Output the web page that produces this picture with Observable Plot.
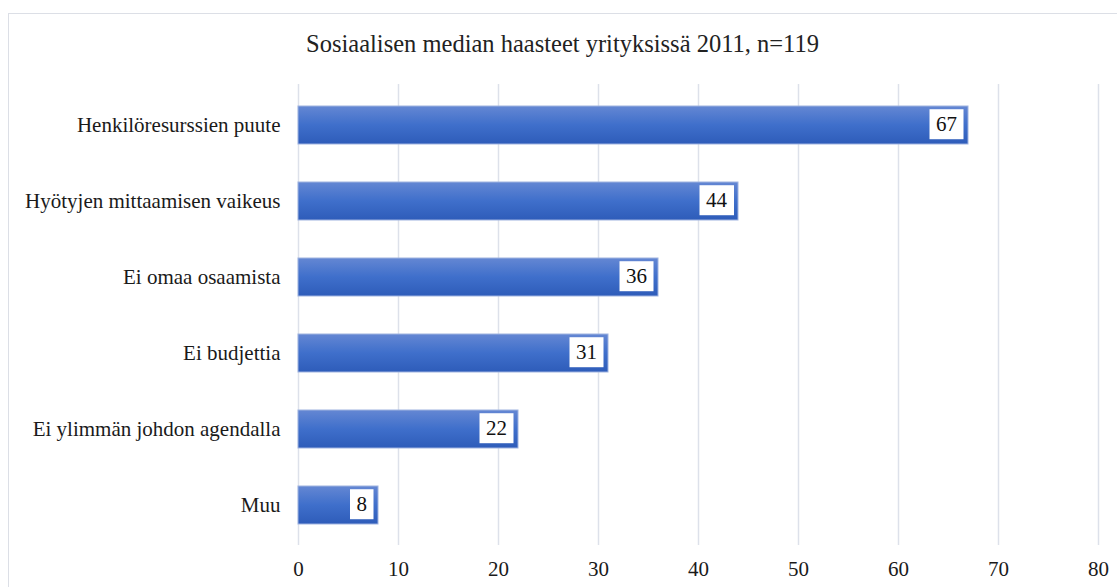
<!DOCTYPE html>
<html>
<head>
<meta charset="utf-8">
<script src="https://cdn.jsdelivr.net/npm/d3@7"></script>
<script src="https://cdn.jsdelivr.net/npm/@observablehq/plot@0.6"></script>
<style>
  html, body { margin: 0; padding: 0; background: #fff; overflow: hidden; width: 1117px; height: 587px; }
  #frame { position: absolute; left: 8px; top: 13px; width: 1300px; height: 800px; border: 1.5px solid #dcdfe6; box-sizing: border-box; }
  #title { position: absolute; left: 0; top: 29px; width: 1117px; text-align: center; font-family: "Liberation Serif", serif; font-size: 24.5px; color: #222; line-height: 30px; padding-left: 4px; }
  #chart { position: absolute; left: 0; top: 70px; }
  #chart svg, #chart svg text { font-family: "Liberation Serif", serif !important; }
</style>
</head>
<body>
<div id="frame"></div>
<div id="title">Sosiaalisen median haasteet yrityksissä 2011, n=119</div>
<div id="chart"></div>
<script>
const categories = ["Henkilöresurssien puute", "Hyötyjen mittaamisen vaikeus", "Ei omaa osaamista", "Ei budjettia", "Ei ylimmän johdon agendalla", "Muu"];
const values = [67, 44, 36, 31, 22, 8];
const xTicks = [0, 10, 20, 30, 40, 50, 60, 70, 80];

const data = categories.map((c, i) => ({category: c, value: values[i]}));

const plot = Plot.plot({
  width: 1117,
  height: 517,
  marginLeft: 298,
  marginRight: 19,
  marginTop: 14,
  marginBottom: 42,
  style: {fontFamily: "'Liberation Serif', serif", fontSize: "21px", color: "#1a1a1a", background: "transparent"},
  x: {domain: [0, 80], ticks: xTicks, label: null, tickSize: 0, tickPadding: 16, grid: false},
  y: {domain: categories, label: null, tickSize: 0, tickPadding: 18, paddingInner: 0.5, paddingOuter: 0.25},
  marks: [
    Plot.ruleX(xTicks, {stroke: "#dde1ea", strokeWidth: 1.5}),
    Plot.barX(data, {x: "value", y: "category", fill: "url(#barGrad)", stroke: "#9fb3e0", strokeWidth: 1, className: "bars"}),
    Plot.text(data, {x: "value", y: "category", text: d => String(d.value), textAnchor: "end", dx: -11.5, dy: -1, fill: "#111", fontSize: 21, className: "vlabels"})
  ]
});

document.getElementById("chart").appendChild(plot);

// gradient definition
const svg = d3.select(plot);
const defs = svg.insert("defs", ":first-child");
const grad = defs.append("linearGradient").attr("id", "barGrad").attr("x1", 0).attr("y1", 0).attr("x2", 0).attr("y2", 1);
grad.append("stop").attr("offset", "0%").attr("stop-color", "#6487d3");
grad.append("stop").attr("offset", "50%").attr("stop-color", "#3f6fcb");
grad.append("stop").attr("offset", "100%").attr("stop-color", "#2e5cb9");

// white boxes behind value labels
svg.selectAll("g.vlabels text").each(function(d) {
  const node = this;
  const bb = node.getBBox();
  const padX = 6.5, h = 30;
  const cy = bb.y + bb.height / 2;
  const tr = node.getAttribute("transform");
  const r = document.createElementNS("http://www.w3.org/2000/svg", "rect");
  r.setAttribute("x", bb.x - padX);
  r.setAttribute("y", cy - h / 2);
  r.setAttribute("width", bb.width + 2 * padX);
  r.setAttribute("height", h);
  r.setAttribute("fill", "#fff");
  if (tr) r.setAttribute("transform", tr);
  node.parentNode.insertBefore(r, node);
});
</script>
</body>
</html>
